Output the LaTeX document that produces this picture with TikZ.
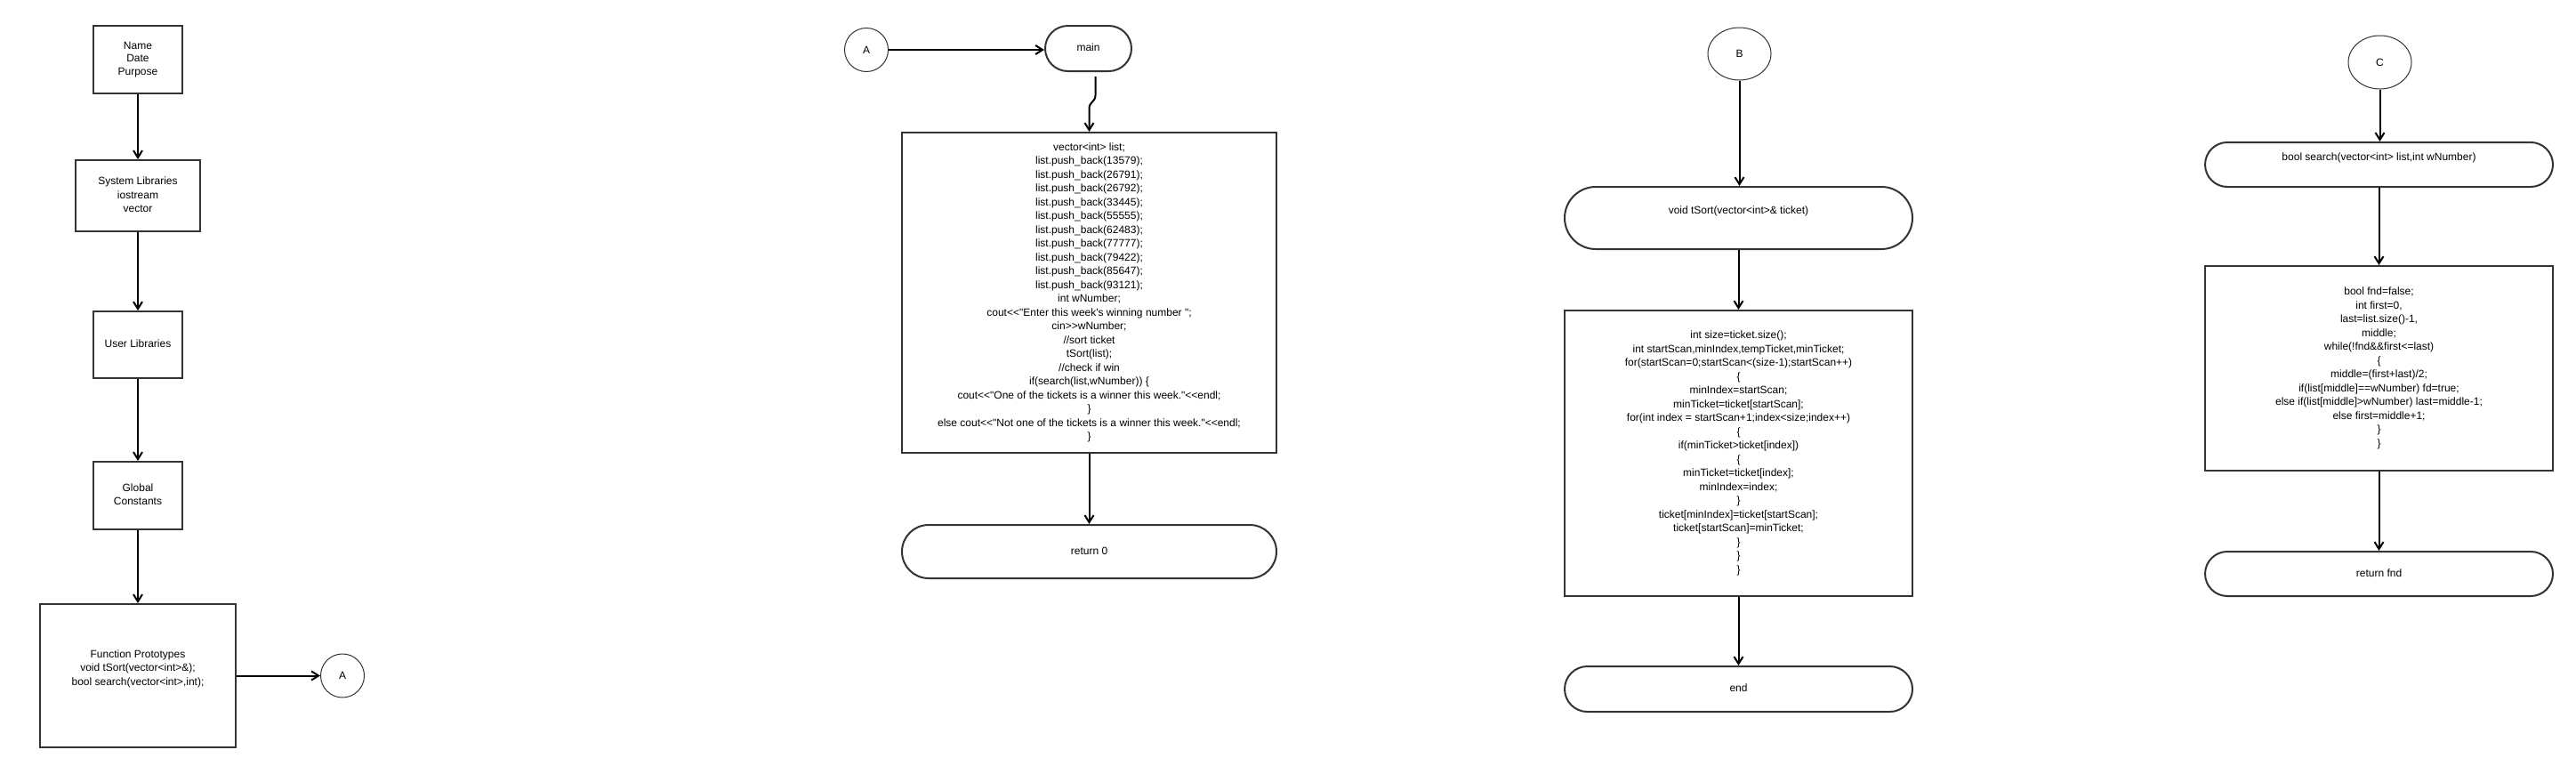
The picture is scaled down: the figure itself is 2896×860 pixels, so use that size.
\documentclass[tikz,border=0pt]{standalone}
\usepackage{fontspec}
\setmainfont{Liberation Sans}[Ligatures=TeXOff]
\usetikzlibrary{arrows.meta,shapes.misc,shapes.geometric,calc}
\definecolor{edge}{RGB}{51,51,51}
\newcommand\tx[1]{\strut#1\strut}
\begin{document}
\begin{tikzpicture}[x=1pt,y=-1pt,
  every node/.style={font=\fontsize{12}{15.5}\selectfont, inner sep=0pt, align=center, text=black},
  box/.style={draw=edge, line width=2pt, rectangle},
  term/.style={draw=edge, line width=2pt, rounded rectangle},
  conn/.style={draw=edge, line width=1pt, circle, minimum size=49pt},
  oval/.style={draw=edge, line width=1pt, ellipse},
  arr/.style={draw=black, line width=2pt, -{Straight Barb[length=8pt,width=10pt]}}
]
\fill[white] (0,0) rectangle (2896,860);
\useasboundingbox (0,0) rectangle (2896,860);

% column 1
\node[box, minimum width=100pt, minimum height=76pt, font=\fontsize{12}{14.2}\selectfont] (name) at (155,67) {\tx{Name\\Date\\Purpose}};
\node[box, minimum width=140pt, minimum height=80pt] (syslib) at (155,220) {\tx{System Libraries\\iostream\\vector}};
\node[box, minimum width=100pt, minimum height=75pt] (userlib) at (155,387.5) {\tx{User Libraries}};
\node[box, minimum width=100pt, minimum height=76pt] (glob) at (155,557) {\tx{Global\\Constants}};
\node[box, minimum width=220pt, minimum height=161pt] (proto) at (155,759.5) {\tx{Function Prototypes\\void tSort(vector<int>\&);\\bool search(vector<int>,int);\\}};
\node[conn] (a1) at (385,759.5) {A};

\draw[arr] (name.south) -- (syslib.north);
\draw[arr] (syslib.south) -- (userlib.north);
\draw[arr] (userlib.south) -- (glob.north);
\draw[arr] (glob.south) -- (proto.north);
\draw[arr] (proto.east) -- (proto.east -| a1.west);

% column 2
\node[conn] (a2) at (974,56) {A};
\node[term, minimum width=97pt, minimum height=51pt] (main) at (1223.5,54.5) {\tx{main}};
\node[box, minimum width=421pt, minimum height=360pt] (code) at (1224.5,329) {\tx{vector<int> list;\\
list.push\_back(13579);\\
list.push\_back(26791);\\
list.push\_back(26792);\\
list.push\_back(33445);\\
list.push\_back(55555);\\
list.push\_back(62483);\\
list.push\_back(77777);\\
list.push\_back(79422);\\
list.push\_back(85647);\\
list.push\_back(93121);\\
int wNumber;\\
cout<<"Enter this week's winning number ";\\
cin>>wNumber;\\
//sort ticket\\
tSort(list);\\
//check if win\\
if(search(list,wNumber)) \{\\
cout<<"One of the tickets is a winner this week."<<endl;\\
\}\\
else cout<<"Not one of the tickets is a winner this week."<<endl;\\
\}}};
\node[term, minimum width=421pt, minimum height=60pt] (ret0) at (1224.5,620) {\tx{return 0}};

\draw[arr] (a2.east) -- (a2.east -| main.west);
\coordinate (m1) at ([xshift=8pt,yshift=-5pt]main.south);
\draw[arr] (m1) -- ++(0,21) .. controls ++(0,8) and ($(code.north)+(0,-34)$) .. ($(code.north)+(0,-26)$) -- (code.north);
\draw[arr] (code.south) -- (ret0.north);

% column 3
\node[oval, minimum width=71pt, minimum height=59pt] (b) at (1955.5,60.5) {B};
\node[term, minimum width=391pt, minimum height=70pt] (tsort) at (1954.5,245) {\tx{void tSort(vector<int>\& ticket)\\}};
\node[box, minimum width=391pt, minimum height=321pt] (sortbox) at (1954.5,509.5) {\tx{int size=ticket.size();\\
int startScan,minIndex,tempTicket,minTicket;\\
for(startScan=0;startScan<(size-1);startScan++)\\
\{\\
minIndex=startScan;\\
minTicket=ticket[startScan];\\
for(int index = startScan+1;index<size;index++)\\
\{\\
if(minTicket>ticket[index])\\
\{\\
minTicket=ticket[index];\\
minIndex=index;\\
\}\\
ticket[minIndex]=ticket[startScan];\\
ticket[startScan]=minTicket;\\
\}\\
\}\\
\}}};
\node[term, minimum width=391pt, minimum height=51pt] (endn) at (1954.5,774.5) {\tx{end}};

\draw[arr] (b.south) -- (b.south |- tsort.north);
\draw[arr] (tsort.south) -- (sortbox.north);
\draw[arr] (sortbox.south) -- (endn.north);

% column 4
\node[oval, minimum width=71pt, minimum height=60pt] (c) at (2675.5,70) {C};
\node[term, minimum width=391pt, minimum height=50pt] (search) at (2674.5,185) {\tx{bool search(vector<int> list,int wNumber)\\}};
\node[box, minimum width=391pt, minimum height=230pt] (sbox) at (2674.5,414) {\tx{bool fnd=false;\\
int first=0,\\
last=list.size()-1,\\
middle;\\
while(!fnd\&\&first<=last)\\
\{\\
middle=(first+last)/2;\\
if(list[middle]==wNumber) fd=true;\\
else if(list[middle]>wNumber) last=middle-1;\\
else first=middle+1;\\
\}\\
\}}};
\node[term, minimum width=391pt, minimum height=50pt] (retfnd) at (2674.5,645) {\tx{return fnd}};

\draw[arr] (c.south) -- (c.south |- search.north);
\draw[arr] (search.south) -- (sbox.north);
\draw[arr] (sbox.south) -- (retfnd.north);
\end{tikzpicture}
\end{document}
